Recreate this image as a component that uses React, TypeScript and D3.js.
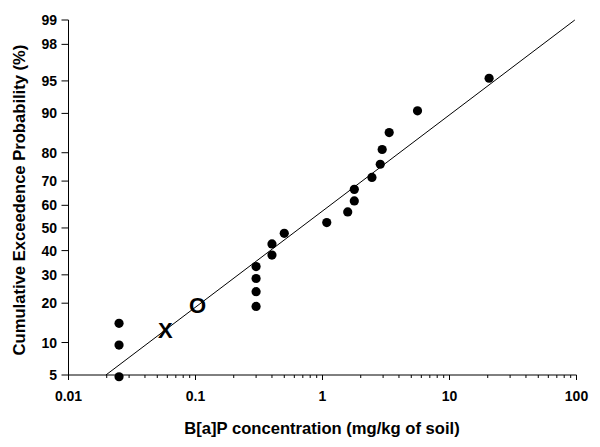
import React from "react";
import * as d3 from "d3";

// Observed B[a]P concentrations (mg/kg) and their cumulative exceedence probability (%)
const concentrations = [0.025, 0.025, 0.025, 0.3, 0.3, 0.3, 0.3, 0.4, 0.4, 0.5, 1.08, 1.58, 1.78, 1.78, 2.45, 2.85, 2.95, 3.35, 5.6, 20.5];
const probabilities = [4.8, 9.5, 14.3, 19.0, 23.8, 28.6, 33.3, 38.1, 42.9, 47.6, 52.4, 57.1, 61.9, 66.7, 71.4, 76.2, 81.0, 85.7, 90.5, 95.3];

// Text markers
const markerLabels = ["X", "O"];
const markerX = [0.058, 0.104];
const markerP = [12.5, 19.2];

// Fitted line end points
const lineX = [0.0197, 97];
const lineP = [5, 99];

// Axis ticks
const yTicks = [5, 10, 20, 30, 40, 50, 60, 70, 80, 90, 95, 98, 99];
const xTicks = [0.01, 0.1, 1, 10, 100];
const xTickLabels = ["0.01", "0.1", "1", "10", "100"];

const xTitle = "B[a]P concentration (mg/kg of soil)";
const yTitle = "Cumulative Exceedence Probability (%)";

// inverse standard normal CDF (Acklam)
function qnorm(p: number): number {
  const a = [-3.969683028665376e1, 2.209460984245205e2, -2.759285104469687e2, 1.38357751867269e2, -3.066479806614716e1, 2.506628277459239];
  const b = [-5.447609879822406e1, 1.615858368580409e2, -1.556989798598866e2, 6.680131188771972e1, -1.328068155288572e1];
  const c = [-7.784894002430293e-3, -3.223964580411365e-1, -2.400758277161838, -2.549732539343734, 4.374664141464968, 2.938163982698783];
  const d = [7.784695709041462e-3, 3.224671290700398e-1, 2.445134137142996, 3.754408661907416];
  const pl = 0.02425;
  let q: number, r: number;
  if (p < pl) {
    q = Math.sqrt(-2 * Math.log(p));
    return (((((c[0] * q + c[1]) * q + c[2]) * q + c[3]) * q + c[4]) * q + c[5]) / ((((d[0] * q + d[1]) * q + d[2]) * q + d[3]) * q + 1);
  } else if (p <= 1 - pl) {
    q = p - 0.5;
    r = q * q;
    return ((((((a[0] * r + a[1]) * r + a[2]) * r + a[3]) * r + a[4]) * r + a[5]) * q) / (((((b[0] * r + b[1]) * r + b[2]) * r + b[3]) * r + b[4]) * r + 1);
  } else {
    q = Math.sqrt(-2 * Math.log(1 - p));
    return -(((((c[0] * q + c[1]) * q + c[2]) * q + c[3]) * q + c[4]) * q + c[5]) / ((((d[0] * q + d[1]) * q + d[2]) * q + d[3]) * q + 1);
  }
}

const W = 600;
const H = 447;
const left = 68.5;
const right = 576.5;
const top = 20;
const bottom = 375;
const font = "'Liberation Sans', Arial, sans-serif";

export default function App() {
  const x = d3.scaleLog().domain([0.01, 100]).range([left, right]);
  const zScale = d3.scaleLinear().domain([qnorm(0.05), qnorm(0.99)]).range([bottom, top]);
  const y = (p: number) => zScale(qnorm(p / 100));

  const minorTicks: number[] = [];
  for (let e = -2; e < 2; e++) {
    for (let k = 2; k <= 9; k++) minorTicks.push(k * Math.pow(10, e));
  }

  const line = d3
    .line<number>()
    .x((_, i) => x(lineX[i]))
    .y((_, i) => y(lineP[i]));

  return (
    <svg width={W} height={H} style={{ position: "absolute", left: 0, top: 0, background: "#fff" }} fontFamily={font}>
      {/* axes */}
      <line x1={left} x2={left} y1={top} y2={bottom} stroke="#000" strokeWidth={1} />
      <line x1={left} x2={right} y1={bottom} y2={bottom} stroke="#000" strokeWidth={1} />
      {yTicks.map((t) => (
        <g key={"y" + t}>
          <line x1={left - 7} x2={left} y1={y(t)} y2={y(t)} stroke="#000" />
          <text x={57} y={y(t)} textAnchor="end" dominantBaseline="central" fontSize={14} fontWeight="bold">
            {t}
          </text>
        </g>
      ))}
      {minorTicks.map((t) => (
        <line key={"m" + t} x1={x(t)} x2={x(t)} y1={bottom} y2={bottom + 3} stroke="#000" />
      ))}
      {xTicks.map((t, i) => (
        <g key={"x" + t}>
          <line x1={x(t)} x2={x(t)} y1={bottom} y2={bottom + 5} stroke="#000" />
          <text x={x(t)} y={400.5} textAnchor="middle" fontSize={14} fontWeight="bold">
            {xTickLabels[i]}
          </text>
        </g>
      ))}
      <text x={322} y={434} textAnchor="middle" fontSize={16.6} fontWeight="bold">
        {xTitle}
      </text>
      <text
        transform={`translate(25,200) rotate(-90)`}
        textAnchor="middle"
        fontSize={16.6}
        fontWeight="bold"
      >
        {yTitle}
      </text>
      {/* fitted line */}
      <path d={line(lineX) || ""} fill="none" stroke="#000" strokeWidth={1} />
      {/* points */}
      {concentrations.map((c, i) => (
        <circle key={"p" + i} cx={x(c)} cy={y(probabilities[i])} r={4.6} fill="#000" />
      ))}
      {markerLabels.map((m, i) => (
        <text
          key={"k" + i}
          x={x(markerX[i])}
          y={y(markerP[i])}
          textAnchor="middle"
          dominantBaseline="central"
          fontSize={22}
          fontWeight="bold"
        >
          {m}
        </text>
      ))}
    </svg>
  );
}
